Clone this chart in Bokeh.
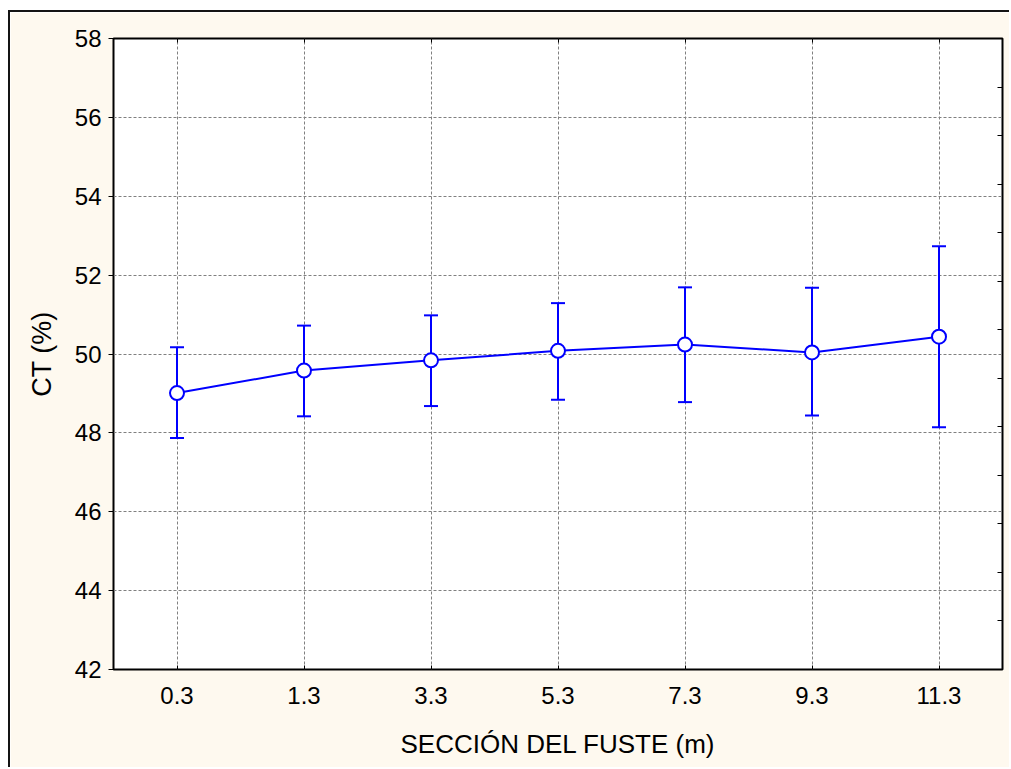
from bokeh.plotting import figure
from bokeh.models import FactorRange, Range1d, LinearAxis, CategoricalAxis, FixedTicker
from bokeh.embed import file_html
from bokeh.resources import INLINE

# ---- data ----
sections = ["0.3", "1.3", "3.3", "5.3", "7.3", "9.3", "11.3"]
ct_mean = [49.01, 49.58, 49.84, 50.08, 50.24, 50.04, 50.44]
ct_upper = [50.17, 50.72, 50.98, 51.29, 51.69, 51.68, 52.73]
ct_lower = [47.87, 48.42, 48.68, 48.84, 48.78, 48.44, 48.14]
y_ticks = [42, 44, 46, 48, 50, 52, 54, 56, 58]
x_title = "SECCIÓN DEL FUSTE (m)"
y_title = "CT (%)"

FONT = "Liberation Sans"
CREAM = "#FEF9EF"
BLUE = "#0000FF"

p = figure(
    x_range=FactorRange(*sections),
    y_range=Range1d(42, 58),
    width=1001, height=757,
    output_backend="svg", toolbar_location=None,
    min_border_left=103, min_border_right=9,
    min_border_top=26, min_border_bottom=100,
)
p.styles = {
    "margin-left": "8px",
    "margin-top": "10px",
    "border-left": "2px solid #141414",
    "border-top": "2px solid #141414",
}

p.border_fill_color = CREAM
p.background_fill_color = "white"
p.outline_line_color = "black"
p.outline_line_width = 2

# left axis
ya = p.yaxis[0]
ya.ticker = FixedTicker(ticks=y_ticks)
ya.axis_line_color = None
ya.major_tick_out = 5
ya.major_tick_in = 0
ya.minor_tick_line_color = None
ya.major_tick_line_color = "black"
ya.major_label_standoff = 7
ya.major_label_text_font = FONT
ya.major_label_text_font_size = "24px"
ya.major_label_text_color = "black"
ya.axis_label = y_title
ya.axis_label_text_font = FONT
ya.axis_label_text_font_size = "27px"
ya.axis_label_text_font_style = "normal"
ya.axis_label_text_color = "black"
ya.axis_label_standoff = 15

# bottom axis
xa = p.xaxis[0]
xa.axis_line_color = None
xa.major_tick_out = 0
xa.major_tick_in = 4
xa.major_tick_line_color = "black"
xa.major_label_standoff = 17
xa.major_label_text_font = FONT
xa.major_label_text_font_size = "24px"
xa.major_label_text_color = "black"
xa.axis_label = x_title
xa.axis_label_text_font = FONT
xa.axis_label_text_font_size = "26px"
xa.axis_label_text_font_style = "normal"
xa.axis_label_text_color = "black"
xa.axis_label_standoff = 22

# top axis (ticks only)
ta = CategoricalAxis()
ta.axis_line_color = None
ta.major_tick_out = 0
ta.major_tick_in = 4
ta.major_label_overrides = {s: "" for s in sections}
ta.major_label_text_color = None
ta.major_label_standoff = 0
p.add_layout(ta, "above")

# right axis (ticks only, inside)
right_ticks = [58 - k * 16 / 13 for k in range(1, 13)]
ra = LinearAxis(ticker=FixedTicker(ticks=right_ticks))
ra.axis_line_color = None
ra.major_tick_out = 0
ra.major_tick_in = 5
ra.minor_tick_line_color = None
ra.major_label_overrides = {t: "" for t in right_ticks}
ra.major_label_text_color = None
ra.major_label_standoff = 0
p.add_layout(ra, "right")

# grids
p.xgrid.grid_line_color = "#808080"
p.xgrid.grid_line_dash = "3 2"
p.xgrid.grid_line_width = 1
p.ygrid.ticker = FixedTicker(ticks=y_ticks)
p.ygrid.grid_line_color = "#808080"
p.ygrid.grid_line_dash = "3 2"
p.ygrid.grid_line_width = 1

# error bars
p.segment(x0=sections, y0=ct_lower, x1=sections, y1=ct_upper, line_color=BLUE, line_width=2)
p.scatter(x=sections, y=ct_upper, marker="dash", size=14, line_color=BLUE, line_width=2)
p.scatter(x=sections, y=ct_lower, marker="dash", size=14, line_color=BLUE, line_width=2)

# mean line and markers
p.line(x=sections, y=ct_mean, line_color=BLUE, line_width=2)
p.scatter(x=sections, y=ct_mean, marker="circle", size=14, fill_color="white",
          line_color=BLUE, line_width=2)

open("out.html", "w").write(file_html(p, INLINE))
